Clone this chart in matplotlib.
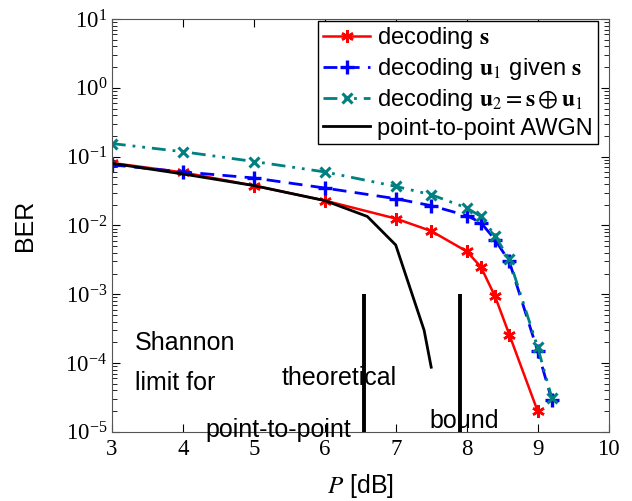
import numpy as np
import matplotlib
matplotlib.use("Agg")
from matplotlib import pyplot as plt

plt.rcParams["mathtext.fontset"] = "stix"
plt.rcParams["font.family"] = ["Liberation Sans", "DejaVu Sans"]

# Data
p_s = [3, 4, 5, 6, 7, 7.5, 8, 8.2, 8.4, 8.6, 9]
ber_s = [0.081, 0.059, 0.038, 0.023, 0.0126, 0.0083, 0.0042, 0.0025, 0.00093, 0.00026, 2.0e-5]

p_u = [3, 4, 5, 6, 7, 7.5, 8, 8.2, 8.4, 8.6, 9, 9.2]
ber_u1 = [0.076, 0.060, 0.049, 0.035, 0.0245, 0.0194, 0.0139, 0.0110, 0.0062, 0.0030, 1.5e-4, 2.9e-5]
ber_u2 = [0.155, 0.118, 0.085, 0.060, 0.037, 0.028, 0.018, 0.0135, 0.0071, 0.0032, 1.7e-4, 3.1e-5]

p_awgn = [3, 4, 5, 6, 6.6, 7, 7.4, 7.5]
ber_awgn = [0.080, 0.056, 0.038, 0.023, 0.0135, 0.0052, 3.0e-4, 8.7e-5]

bound_x = [6.56, 7.9]
bound_top = 1e-3

teal = (0.0, 0.5, 0.5)

fig = plt.figure(figsize=(6.32, 5.01), dpi=100)
ax = fig.add_axes([0.177, 0.138, 0.786, 0.824])

ax.plot(p_s, ber_s, color="red", lw=1.8, marker=(6, 2, 0), ms=9, mew=1.8,
        label=r"decoding $\mathbf{s}$")
ax.plot(p_u, ber_u1, color="blue", lw=2.0, ls=(0, (5, 3)), marker="+", ms=10, mew=2.4,
        label=r"decoding $\mathbf{u}_1$ given $\mathbf{s}$")
ax.plot(p_u, ber_u2, color=teal, lw=2.0, ls=(0, (5, 2.5, 1, 2.5, 1, 2.5)), marker="x", ms=6.5, mew=2.2,
        label=r"decoding $\mathbf{u}_2 = \mathbf{s} \oplus \mathbf{u}_1$")
ax.plot(p_awgn, ber_awgn, color="black", lw=2.0, label="point-to-point AWGN")

# theoretical bounds
for bx in bound_x:
    ax.vlines(bx, 1e-5, bound_top, color="black", lw=2.8, zorder=3)

ax.set_yscale("log")
ax.set_xlim(3, 10)
ax.set_ylim(1e-5, 10)
ax.set_xticks(range(3, 11))
ax.tick_params(which="both", direction="in", top=True, right=True, labelsize=16.5)
ax.tick_params(which="major", length=6)
ax.tick_params(which="minor", length=3.5)
ax.tick_params(axis="x", pad=5)
for lab in ax.get_xticklabels() + ax.get_yticklabels():
    lab.set_fontfamily("Liberation Serif")
for s in ax.spines.values():
    s.set_color("#555555")

ax.set_ylabel("BER", fontsize=18, labelpad=20)
ax.set_xlabel(r"$P$ [dB]", fontsize=18, labelpad=9)

# annotations
ax.text(3.33, 10**-3.71, "Shannon", fontsize=18, va="center", ha="left")
ax.text(3.33, 10**-4.29, "limit for", fontsize=18, va="center", ha="left")
ax.text(5.34, 10**-4.97, "point-to-point", fontsize=18, va="center", ha="center")
ax.text(6.2, 10**-4.22, "theoretical", fontsize=18, va="center", ha="center")
ax.text(7.96, 10**-4.84, "bound", fontsize=18, va="center", ha="center")

leg = ax.legend(loc="upper right", bbox_to_anchor=(0.978, 0.996), fontsize=17,
                fancybox=False, framealpha=1, edgecolor="black", handlelength=2.0,
                borderaxespad=0, borderpad=0.2, labelspacing=0.2, handletextpad=0.3)
leg.get_frame().set_linewidth(1.0)

fig.savefig("out.png", dpi=100)
